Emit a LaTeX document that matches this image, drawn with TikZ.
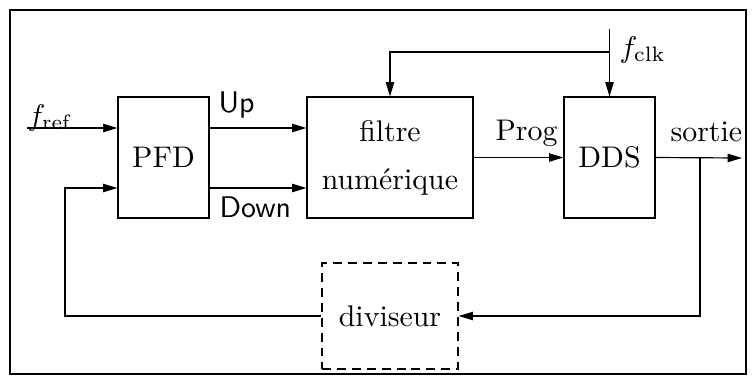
\documentclass[tikz,border=0pt]{standalone}
\usepackage{amsmath}
\usepackage{amssymb}
\usetikzlibrary{arrows.meta}

\begin{document}
\begin{tikzpicture}[x=0.335pt,y=-0.335pt,
  >={Triangle[length=4.8pt,width=2.8pt]},
  block/.style={draw,inner sep=0pt,minimum width=30.5pt,minimum height=40.5pt},
  lbl/.style={inner sep=0pt,anchor=base west}]

\useasboundingbox (0,0) rectangle (754,385);
\draw[line width=0.8pt] (10,10) rectangle (746,374);

% Blocks
\node[block] (pfd) at (163.5,157.5) {PFD};
\node[block,minimum width=55.6pt,align=center] (filtre) at (390,157.5) {filtre\\[4pt]num\'erique};
\node[block] (dds) at (609.5,157.5) {DDS};
\node[block,dashed,dash pattern=on 3pt off 2pt,minimum width=45.6pt,minimum height=35.5pt] (div) at (390,316) {diviseur};

% Free ends and corners
\coordinate (fin) at (27,128);
\coordinate (dn) at (65,188);
\coordinate (out) at (742,158);
\coordinate (br) at (700,158);
\coordinate (clk) at (609.5,29);
\coordinate (clkb) at (609.5,52);

% Connectors
\draw[->] (fin)--(fin -| pfd.west);
\draw[->] (pfd.east |- fin)--(filtre.west |- fin);
\draw[->] (pfd.east |- dn)--(filtre.west |- dn);
\draw[->] (filtre.east)--(dds.west);
\draw[->] (dds.east)--(out);
\draw[->] (br) |- (div.east);
\draw[->] (div.west) -| (dn)--(dn -| pfd.west);
\draw[->] (clk)--(dds.north);
\draw[->] (clkb) -| (filtre.north);

% Labels
\node[lbl] (lfref) at (27,125) {$f_{\text{ref}}$};
\node[lbl] (lup) at (218,112) {\sffamily Up};
\node[lbl] (ldown) at (219,217) {\sffamily Down};
\node[lbl] (lprog) at (495,140) {Prog};
\node[lbl] (lsortie) at (670,141) {sortie};
\node[lbl] (lfclk) at (619,57) {$f_{\text{clk}}$};

\end{tikzpicture}
\end{document}
